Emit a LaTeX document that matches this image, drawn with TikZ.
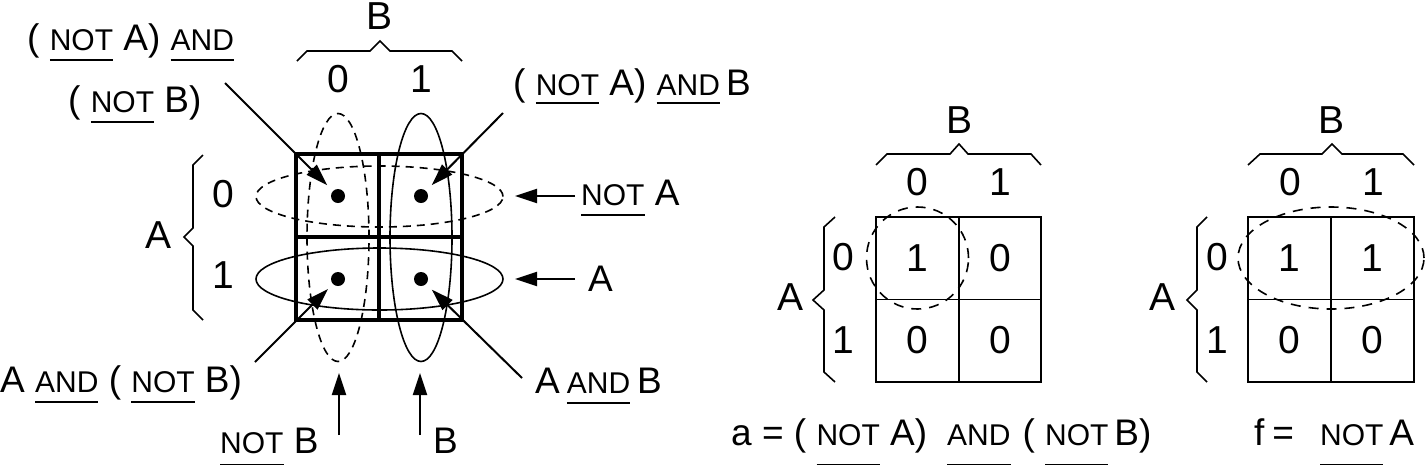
\documentclass[tikz,border=0pt]{standalone}
\usepackage{fontspec}
\setmainfont{Liberation Sans}
\usetikzlibrary{arrows.meta}
\newcommand\ulw[2][10.5pt]{\setbox0\hbox{#2}\rlap{\rule[-#1]{\wd0}{1.4pt}}\box0\relax}
\newcommand\sm{\fontsize{30pt}{30pt}\selectfont}
\begin{document}
\begin{tikzpicture}[x=1pt,y=-1pt,
  font=\fontsize{37pt}{40pt}\selectfont,
  lbl/.style={anchor=base west, inner sep=0pt},
  num/.style={inner sep=0pt, font=\fontsize{39pt}{40pt}\selectfont},
  dot/.style={circle, fill, inner sep=0pt, minimum size=14pt},
  arr/.style={line width=2pt, -{Triangle[length=22pt,width=14pt]}},
  thickbox/.style={line width=4pt},
  thinline/.style={line width=1.6pt},
  dsh/.style={line width=1.6pt, dash pattern=on 8pt off 6pt},
  brc/.style={line width=1.6pt, line join=miter}]
\useasboundingbox (0,0) rectangle (1426,467);

% ---------- left K-map ----------
\draw[thickbox] (296,154) rectangle (462,320);
\draw[thickbox] (379,154) -- (379,320);
\draw[thickbox] (296,237) -- (462,237);

\draw[dsh] (338,237.5) ellipse [x radius=31pt, y radius=124pt];
\draw[thinline] (421,237.5) ellipse [x radius=31pt, y radius=124pt];
\draw[dsh] (379.5,196.5) ellipse [x radius=123.5pt, y radius=30.5pt];
\draw[thinline] (379.5,279) ellipse [x radius=123.5pt, y radius=31pt];

\node[dot] (d00) at (338,196) {};
\node[dot] (d01) at (421,196) {};
\node[dot] (d10) at (338,279) {};
\node[dot] (d11) at (421,279) {};

\draw[brc] (297,61) -- (307,51) -- (370,51) -- (380,41) -- (390,51) -- (452,51) -- (462,61);
\draw[brc] (203,155) -- (193,165) -- (193,228) -- (184,237) -- (193,246) -- (193,310) -- (203,320);

\node[num] (lB) at (380,16) {B};
\node[num] (lc0) at (338,79) {0};
\node[num] (lc1) at (421,79) {1};
\node[num] (lA) at (159,235) {A};
\node[num] (lr0) at (223,194) {0};
\node[num] (lr1) at (223,275) {1};

% labels
\node[lbl] (t1) at (27,50) {( \ulw{\sm NOT} A) \ulw{\sm AND}};
\node[lbl] (t2) at (68,112) {( \ulw{\sm NOT} B)};
\node[lbl] (t3) at (513,95) {( \ulw[8.5pt]{\sm NOT} A) \ulw[8.5pt]{\sm AND}\hspace{6pt}B};
\node[lbl] (t4) at (581,205) {\ulw{\sm NOT} A};
\node[lbl] (t5) at (588,291) {A};
\node[lbl] (t6) at (0,392) {A \ulw{\sm AND} ( \ulw{\sm NOT} B)};
\node[lbl] (t7) at (535,393) {A\hspace{7pt}\ulw{\sm AND}\hspace{7pt}B};
\node[lbl] (t8) at (220,453) {\ulw[12pt]{\sm NOT} B};
\node[lbl] (t9) at (433,453) {B};

% connectors
\coordinate (s1) at (225,83);
\coordinate (s2) at (503,113);
\coordinate (s3) at (255,362);
\coordinate (s4) at (522,378);
\coordinate (s5) at (575,196);
\coordinate (e5) at (515,196);
\coordinate (s6) at (575,279);
\coordinate (e6) at (515,279);
\coordinate (s7) at (339,435);
\coordinate (e7) at (339,373);
\coordinate (s8) at (420,435);
\coordinate (e8) at (420,373);
\draw[arr, shorten >=8pt] (s1) -- (d00);
\draw[arr, shorten >=8pt] (s2) -- (d01);
\draw[arr, shorten >=7pt] (s3) -- (d10);
\draw[arr, shorten >=8pt] (s4) -- (d11);
\draw[arr] (s5) -- (e5);
\draw[arr] (s6) -- (e6);
\draw[arr] (s7) -- (e7);
\draw[arr] (s8) -- (e8);

% ---------- map a ----------
\begin{scope}[shift={(876,0)}]
\draw[thinline] (0,217) rectangle (165,382);
\draw[thinline] (83,217) -- (83,382);
\draw[thinline] (0,299.5) -- (165,299.5);
\draw[dsh, dash pattern=on 10pt off 8pt] (41.5,258) circle [radius=51pt];
\draw[brc] (0,165) -- (11,154) -- (74,154) -- (83,144) -- (92,154) -- (155,154) -- (165,165);
\draw[brc] (-41,217) -- (-52,227) -- (-52,290) -- (-63,300) -- (-52,310) -- (-52,372) -- (-41,382);
\node[num] (aB) at (83,120) {B};
\node[num] (ac0) at (41.5,182) {0};
\node[num] (ac1) at (124.5,182) {1};
\node[num] (aA) at (-86,297) {A};
\node[num] (ar0) at (-33,257) {0};
\node[num] (ar1) at (-33,340) {1};
\node[num] (a00) at (41.5,258) {1};
\node[num] (a01) at (124.5,258) {0};
\node[num] (a10) at (41.5,340.5) {0};
\node[num] (a11) at (124.5,340.5) {0};
\end{scope}

% ---------- map f ----------
\begin{scope}[shift={(1248,0)}]
\draw[thinline] (0,217) rectangle (166,382);
\draw[thinline] (83,217) -- (83,382);
\draw[thinline] (0,299.5) -- (166,299.5);
\draw[dsh, dash pattern=on 10pt off 8pt] (83,258) ellipse [x radius=93pt, y radius=51pt];
\draw[brc] (0,165) -- (12,154) -- (74,154) -- (84,144) -- (94,154) -- (155,154) -- (166,165);
\draw[brc] (-41,217) -- (-51,227) -- (-51,290) -- (-61,300) -- (-51,310) -- (-51,372) -- (-41,382);
\node[num] (fB) at (83,120) {B};
\node[num] (fc0) at (42,182) {0};
\node[num] (fc1) at (125,182) {1};
\node[num] (fA) at (-86,297) {A};
\node[num] (fr0) at (-31,257) {0};
\node[num] (fr1) at (-31,340) {1};
\node[num] (f00) at (41.5,258) {1};
\node[num] (f01) at (124.5,258) {1};
\node[num] (f10) at (41.5,340.5) {0};
\node[num] (f11) at (124.5,340.5) {0};
\end{scope}

% formulas
\node[lbl] (fa) at (731,445) {a = ( \ulw[20pt]{\sm NOT} A)\hspace{20pt}\ulw[20pt]{\sm AND}\hspace{12pt}( \ulw[20pt]{\sm NOT}\hspace{6pt}B)};
\node[lbl] (ff) at (1254,445) {f\hspace{8pt}=\hspace{26pt}\ulw[20pt]{\sm NOT}\hspace{6pt}A};
\end{tikzpicture}
\end{document}
